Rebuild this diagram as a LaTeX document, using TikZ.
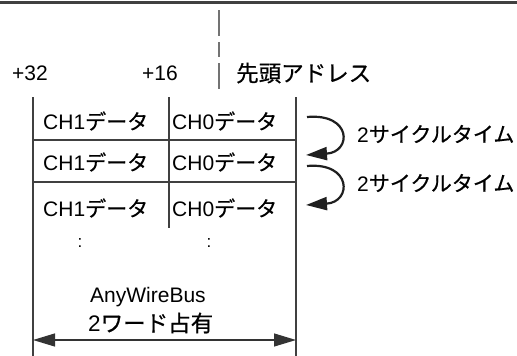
\documentclass[tikz,border=0pt]{standalone}
\usepackage{fontspec}
\setmainfont{Liberation Sans}
\newfontfamily\cjk{Noto Sans CJK JP}[RawFeature={embolden=0.6}]
\usetikzlibrary{arrows.meta}
\begin{document}
\begin{tikzpicture}[x=1pt,y=-1pt,
  txt/.style={inner sep=0pt,font=\fontsize{21}{24}\selectfont},
  bigtxt/.style={inner sep=0pt,font=\fontsize{22.5}{26}\selectfont},
  grid/.style={draw=black!75,line width=1.2pt},
  addr/.style={draw=black!55,line width=1.8pt},
  cyc/.style={draw=black!88,line width=2.2pt,-{Triangle[length=21pt,width=13pt]}},
  span/.style={draw=black!80,line width=1.2pt,{Triangle[length=22pt,width=13pt]}-{Triangle[length=22pt,width=13pt]}}]
\useasboundingbox (0,0) rectangle (517,356);
% top rule
\draw[draw=black!75,line width=3pt] (0,2.5) -- (517,2.5);
% start address mark
\draw[addr] (219,10) -- (219,36);
\draw[addr] (219,42) -- (219,57);
\draw[addr] (219,63) -- (219,89);
% labels above
\node[txt] (p32) at (30,73) {+32};
\node[txt] (p16) at (160,73) {+16};
\node[bigtxt,anchor=west] (head) at (236,73) {\cjk 先頭アドレス};
% table
\coordinate (tl) at (33,97);
\coordinate (tr) at (296,97);
\coordinate (bl) at (33,356);
\coordinate (br) at (296,356);
\coordinate (mt) at (169,97);
\coordinate (mb) at (169,228);
\draw[grid] (tl) -- (bl);
\draw[grid] (tr) -- (br);
\draw[grid] (mt) -- (mb);
\draw[grid] (33,140) -- (296,140);
\draw[grid] (33,182) -- (296,182);
% cells
\node[txt,anchor=west] (a1) at (43,121) {CH1{\cjk データ}};
\node[txt,anchor=west] (b1) at (172,121) {CH0{\cjk データ}};
\node[txt,anchor=west] (a2) at (43,162) {CH1{\cjk データ}};
\node[txt,anchor=west] (b2) at (172,162) {CH0{\cjk データ}};
\node[txt,anchor=west] (a3) at (43,208) {CH1{\cjk データ}};
\node[txt,anchor=west] (b3) at (172,208) {CH0{\cjk データ}};
\node[inner sep=0pt,font=\fontsize{17}{18}\selectfont] (c1) at (80,243) {:};
\node[inner sep=0pt,font=\fontsize{17}{18}\selectfont] (c2) at (209,243) {:};
% cycle arrows
\coordinate (s1) at (307,117);
\coordinate (e1) at (306,155);
\coordinate (s2) at (307,166);
\coordinate (e2) at (306,205);
\draw[cyc] (s1) .. controls (352,113) and (352,152) .. (e1);
\draw[cyc] (s2) .. controls (352,162) and (352,202) .. (e2);
\node[txt,anchor=west] (l1) at (357,134) {2{\cjk サイクルタイム}};
\node[txt,anchor=west] (l2) at (357,183) {2{\cjk サイクルタイム}};
% bottom
\node[txt,anchor=west] (awb) at (90,297) {AnyWireBus};
\node[bigtxt,anchor=west] (occ) at (88,323) {2{\cjk ワード占有}};
\coordinate (al) at (33,340);
\coordinate (ar) at (296,340);
\draw[span] (al) -- (ar);
\end{tikzpicture}
\end{document}
